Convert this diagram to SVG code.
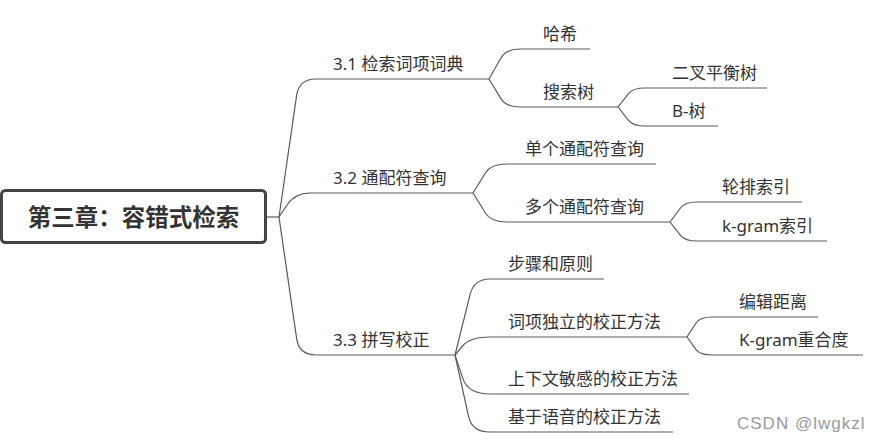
<svg xmlns="http://www.w3.org/2000/svg" width="873" height="443" viewBox="0 0 873 443">
<style>
.c{fill:none;stroke:#5a5a5a;stroke-width:1.2}
.t{font-family:"Noto Sans","Noto Sans CJK SC",sans-serif;font-size:17px;fill:#333}
.r{font-family:"Noto Sans CJK SC","Noto Sans",sans-serif;font-size:23.5px;font-weight:bold;fill:#333}
.w{font-family:"Liberation Sans","Noto Sans",sans-serif;font-size:17px;fill:#9a9a9a;letter-spacing:1px}
</style>
<rect width="873" height="443" fill="#fff"/>
<g id="connectors">
<path class="c" d="M266,217 H279"/>
<path class="c" d="M279,217 L296.6,95.6 Q299,79 316,79 H489"/>
<path class="c" d="M279,217 L287,205 Q295,193 310,193 H473"/>
<path class="c" d="M279,217 L296.6,338.4 Q299,355 316,355 H455"/>
<path class="c" d="M489,79 L500.9,58 Q506,49 520,49 H590"/>
<path class="c" d="M489,79 L500.9,98.6 Q506,107 520,107 H618"/>
<path class="c" d="M618,107 L628.5,93.7 Q633,88 645,88 H767"/>
<path class="c" d="M618,107 L628.5,120.3 Q633,126 645,126 H718"/>
<path class="c" d="M473,193 L485.6,172.7 Q491,164 507,164 H656"/>
<path class="c" d="M473,193 L485.6,213.3 Q491,222 507,222 H670"/>
<path class="c" d="M670,222 L680.5,208 Q685,202 697,202 H802"/>
<path class="c" d="M670,222 L680.5,235.3 Q685,241 697,241 H827"/>
<path class="c" d="M455,355 L470.2,294.2 Q474,279 490,279 H604"/>
<path class="c" d="M455,355 L462.5,346 Q470,337 490,337 H687"/>
<path class="c" d="M455,355 L462.8,378.4 Q468,394 490,394 H689"/>
<path class="c" d="M455,355 L468.6,416.6 Q472,432 490,432 H673"/>
<path class="c" d="M687,337 L696.1,323 Q700,317 712,317 H818"/>
<path class="c" d="M687,337 L696.1,349.6 Q700,355 712,355 H863"/>
</g>
<g id="root">
<rect x="1.5" y="190.5" width="264" height="52" rx="4" fill="#fff" stroke="#444" stroke-width="3"/>
<text class="r" x="133.5" y="225.5" text-anchor="middle">第三章：容错式检索</text>
</g>
<g id="n31"><text class="t" x="333" y="70">3.1 检索词项词典</text></g>
<g id="n311"><text class="t" x="543" y="40">哈希</text></g>
<g id="n312"><text class="t" x="543" y="98">搜索树</text></g>
<g id="n3121"><text class="t" x="672" y="79">二叉平衡树</text></g>
<g id="n3122"><text class="t" x="672" y="117">B-树</text></g>
<g id="n32"><text class="t" x="333" y="184">3.2 通配符查询</text></g>
<g id="n321"><text class="t" x="525" y="155">单个通配符查询</text></g>
<g id="n322"><text class="t" x="525" y="213">多个通配符查询</text></g>
<g id="n3221"><text class="t" x="722" y="193">轮排索引</text></g>
<g id="n3222"><text class="t" x="722" y="232">k-gram索引</text></g>
<g id="n33"><text class="t" x="333" y="346">3.3 拼写校正</text></g>
<g id="n331"><text class="t" x="508" y="270">步骤和原则</text></g>
<g id="n332"><text class="t" x="508" y="328">词项独立的校正方法</text></g>
<g id="n3321"><text class="t" x="739" y="308">编辑距离</text></g>
<g id="n3322"><text class="t" x="739" y="346">K-gram重合度</text></g>
<g id="n333"><text class="t" x="508" y="385">上下文敏感的校正方法</text></g>
<g id="n334"><text class="t" x="508" y="423">基于语音的校正方法</text></g>
<text class="w" x="737" y="429">CSDN @lwgkzl</text>
</svg>
